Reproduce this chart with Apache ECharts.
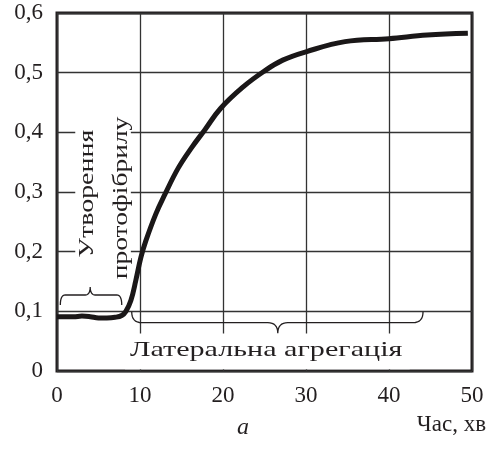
<!DOCTYPE html>
<html>
<head>
<meta charset="utf-8">
<script src="https://cdn.jsdelivr.net/npm/echarts@6/dist/echarts.min.js"></script>
<style>
  html, body { margin: 0; padding: 0; background: #fff; }
  #chart { width: 490px; height: 467px; }
</style>
</head>
<body>
<div id="chart"></div>
<script>
// час (хв) та оптична густина
const timeMin = [0, 1, 2, 3, 4, 5, 6, 7, 7.8, 8.3, 8.9, 9.5, 10.1, 10.7, 11.9, 13, 14.6, 16.2, 17.8, 19.7, 22.5, 24.9, 27.2, 30, 34.7, 40, 44.6, 49.5]
const density = [0.091, 0.091, 0.091, 0.092, 0.091, 0.089, 0.089, 0.09, 0.093, 0.1, 0.118, 0.152, 0.19, 0.218, 0.263, 0.296, 0.34, 0.374, 0.404, 0.44, 0.477, 0.502, 0.521, 0.535, 0.552, 0.557, 0.563, 0.566]
const xTicks = [0, 10, 20, 30, 40, 50]
const yTicks = [0, 0.1, 0.2, 0.3, 0.4, 0.5, 0.6]
const xName = 'Час, хв'
const caption = 'a'
const stage1 = ['Утворення', 'протофібрилу']
const stage2 = 'Латеральна агрегація'

const ink = '#231f20'
const serif = 'Liberation Serif'

const chart = echarts.init(document.getElementById('chart'))

const option = {
  animation: false,
  title: {
    text: caption,
    left: 232,
    top: 411,
    textStyle: { fontFamily: serif, fontStyle: 'italic', fontWeight: 'normal', fontSize: 24, color: ink }
  },
  grid: {
    left: 57,
    right: 18,
    top: 13,
    bottom: 96,
    show: true,
    borderColor: ink,
    borderWidth: 3
  },
  xAxis: {
    type: 'value',
    min: xTicks[0],
    max: xTicks[xTicks.length - 1],
    interval: 10,
    axisLine: { show: false },
    axisTick: { show: false },
    splitLine: { lineStyle: { color: '#333', width: 1.3 } },
    axisLabel: { margin: 13, fontFamily: serif, fontSize: 23, color: ink },
    name: xName,
    nameLocation: 'end',
    nameGap: 14,
    nameTextStyle: { fontFamily: serif, fontSize: 23, color: ink, align: 'right', verticalAlign: 'top', padding: [42, 0, 0, 0] }
  },
  yAxis: {
    type: 'value',
    min: yTicks[0],
    max: yTicks[yTicks.length - 1],
    interval: 0.1,
    axisLine: { show: false },
    axisTick: { show: false },
    splitLine: { lineStyle: { color: '#333', width: 1.3 } },
    axisLabel: {
      margin: 14,
      fontFamily: serif,
      fontSize: 23,
      color: ink,
      formatter: v => (Math.round(v * 10) / 10).toString().replace('.', ',')
    }
  },
  series: [
    {
      type: 'line',
      data: timeMin.map((t, i) => [t, density[i]]),
      smooth: 0.4,
      showSymbol: false,
      symbol: 'none',
      lineStyle: { color: '#1a1718', width: 5 },
      z: 5
    }
  ]
}
chart.setOption(option)

// фігурні дужки та підписи ставимо через координати осей
const px = (x, y) => chart.convertToPixel({ gridIndex: 0 }, [x, y])

function quad (p0, c, p1, out) {
  for (let k = 1; k <= 8; k++) {
    const t = k / 8
    const u = 1 - t
    out.push([u * u * p0[0] + 2 * u * t * c[0] + t * t * p1[0], u * u * p0[1] + 2 * u * t * c[1] + t * t * p1[1]])
  }
}

function brace (x1, x2, xt, yEnd, yBody, yTip, r) {
  const a = px(x1, yEnd)
  const b = px(x2, yEnd)
  const yb = px(x1, yBody)[1]
  const t = px(xt, yTip)
  const pts = [a]
  quad(a, [a[0], yb], [a[0] + r, yb], pts)
  pts.push([t[0] - r, yb])
  quad([t[0] - r, yb], [t[0], yb], t, pts)
  quad(t, [t[0], yb], [t[0] + r, yb], pts)
  pts.push([b[0] - r, yb])
  quad([b[0] - r, yb], [b[0], yb], b, pts)
  return pts
}

const box1a = px(2.2, 0.447)
const box1b = px(8.9, 0.133)
const box2a = px(8.2, 0.063)
const box2b = px(42.5, 0.003)
const t1 = px(3.6, 0.297)
const t2 = px(7.7, 0.29)
const t3 = px(25.2, 0.035)

chart.setOption({
  graphic: [
    {
      type: 'rect', z: 1, silent: true,
      shape: { x: box1a[0], y: box1a[1], width: box1b[0] - box1a[0], height: box1b[1] - box1a[1] },
      style: { fill: '#fff' }
    },
    {
      type: 'rect', z: 1, silent: true,
      shape: { x: box2a[0], y: box2a[1], width: box2b[0] - box2a[0], height: box2b[1] - box2a[1] },
      style: { fill: '#fff' }
    },
    {
      type: 'polyline', z: 3, silent: true,
      shape: { points: brace(0.4, 7.8, 4.0, 0.1106, 0.1274, 0.1408, 5) },
      style: { fill: null, stroke: ink, lineWidth: 1.3 }
    },
    {
      type: 'polyline', z: 3, silent: true,
      shape: { points: brace(9.0, 44.1, 26.6, 0.0994, 0.081, 0.0632, 10) },
      style: { fill: null, stroke: ink, lineWidth: 1.3 }
    },
    {
      type: 'text', z: 3, silent: true,
      x: t1[0], y: t1[1], rotation: Math.PI / 2, scaleX: 1.27,
      style: { text: stage1[0], font: '22px "Liberation Serif"', fill: ink, textAlign: 'center', textVerticalAlign: 'middle' }
    },
    {
      type: 'text', z: 3, silent: true,
      x: t2[0], y: t2[1], rotation: Math.PI / 2, scaleX: 1.25,
      style: { text: stage1[1], font: '22px "Liberation Serif"', fill: ink, textAlign: 'center', textVerticalAlign: 'middle' }
    },
    {
      type: 'text', z: 3, silent: true,
      x: t3[0], y: t3[1], scaleX: 1.37,
      style: { text: stage2, font: '22px "Liberation Serif"', fill: ink, textAlign: 'center', textVerticalAlign: 'middle' }
    }
  ]
})
</script>
</body>
</html>
